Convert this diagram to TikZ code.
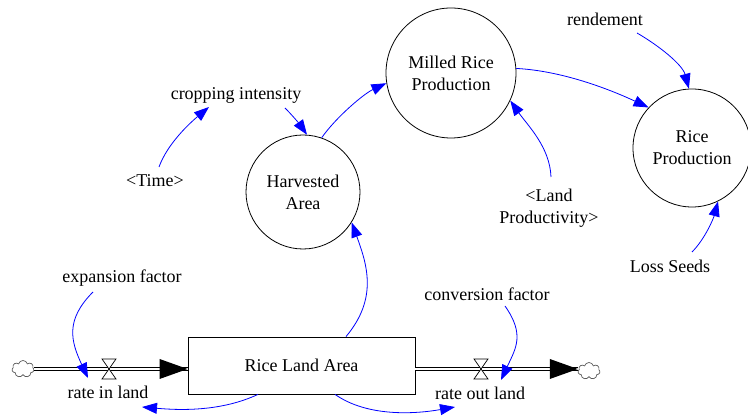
\documentclass[tikz,border=0pt]{standalone}
\usepackage{fontspec}
\setmainfont{Liberation Serif}
\usetikzlibrary{arrows.meta,shapes.symbols}
\begin{document}
\begin{tikzpicture}[x=1pt,y=1pt,
  every node/.style={font=\fontsize{18}{22}\selectfont, inner sep=1pt, align=center},
  stock/.style={draw, line width=0.8pt, minimum width=227pt, minimum height=57pt},
  aux/.style={draw, circle, line width=0.8pt},
  link/.style={draw=blue, line width=0.8pt, -{Triangle[length=15pt,width=11pt]}},
  pipe/.style={draw=black, line width=0.9pt, double=white, double distance=2.6pt},
  valvepart/.style={fill=white, draw=black, line width=0.7pt},
  sink/.style={cloud, cloud puffs=7, draw=gray!70!black, line width=0.7pt, minimum width=22pt, minimum height=17pt, inner sep=0pt, aspect=1.3}
]
\useasboundingbox (0,0) rectangle (748,417);

% stocks and auxiliaries
\node[stock] (box) at (301.5,51.5) {Rice Land Area};
\node[aux, minimum size=114pt] (ha) at (303,225) {Harvested\\Area};
\node[aux, minimum size=130pt] (mr) at (451,344) {Milled Rice\\Production};
\node[aux, minimum size=118pt] (rp) at (692,269) {Rice\\Production};

\node (ci) at (236,322) {cropping intensity};
\node (time) at (155,236) {<Time>};
\node (lp) at (549,209) {<Land\\Productivity>};
\node (ren) at (605,398) {rendement};
\node (ls) at (670,151) {Loss Seeds};
\node (ef) at (122,139) {expansion factor};
\node (cf) at (487,123) {conversion factor};

% clouds
\node[sink] (cl) at (23,48) {};
\node[sink] (cr) at (589,46) {};

% valves
\coordinate (vin) at (109,48);
\coordinate (vout) at (481,48);
\node (rin) at (108,25) {rate in land};
\node (rout) at (480,24) {rate out land};

% pipes
\draw[pipe] (cl.east |- vin) -- (box.west |- vin);
\fill (box.west |- vin) -- ++(-28,10) -- ++(0,-20) -- cycle;
\draw[pipe] (box.east |- vout) -- (cr.west |- vout);
\fill (cr.west |- vout) -- ++(-28,10) -- ++(0,-20) -- cycle;

\foreach \v in {vin,vout}{
  \filldraw[valvepart] (\v) -- ++(-7,10) -- ++(14,0) -- cycle;
  \filldraw[valvepart] (\v) -- ++(-7,-10) -- ++(14,0) -- cycle;
}

% links
\draw[link] ([shift={(-29,-14)}]ef.center) .. controls +(225:40) and +(115:40) .. ([shift={(-20,14)}]rin.center);
\draw[link] ([shift={(18,-12)}]cf.center) .. controls +(-55:35) and +(65:35) .. ([shift={(21,13)}]rout.center);
\draw[link] ([xshift=-43.5pt]box.south) .. controls +(-155:40) and +(-5:40) .. ([shift={(34,-15)}]rin.center);
\draw[link] ([xshift=33.5pt]box.south) .. controls +(-35:40) and +(190:40) .. ([shift={(-25,-14)}]rout.center);
\draw[link] ([xshift=44.5pt]box.north) .. controls +(50:50) and +(-70:45) .. (ha.-32);
\draw[link] ([shift={(4,14)}]time.center) .. controls +(70:25) and +(220:25) .. ([shift={(-27,-12)}]ci.center);
\draw[link] ([shift={(49,-13)}]ci.center) .. controls +(-45:12) and +(125:12) .. (ha.86);
\draw[link] (ha.71) .. controls +(55:25) and +(205:25) .. (mr.189);
\draw[link] (mr.4) .. controls +(-3:45) and +(155:45) .. (rp.137);
\draw[link] ([shift={(32,-14)}]ren.center) .. controls +(-30:25) and +(105:25) .. (rp.93);
\draw[link] ([shift={(2,31)}]lp.center) .. controls +(92:30) and +(-55:30) .. (mr.-25);
\draw[link] ([shift={(22,14)}]ls.center) .. controls +(45:18) and +(-105:18) .. (rp.-64);
\end{tikzpicture}
\end{document}
